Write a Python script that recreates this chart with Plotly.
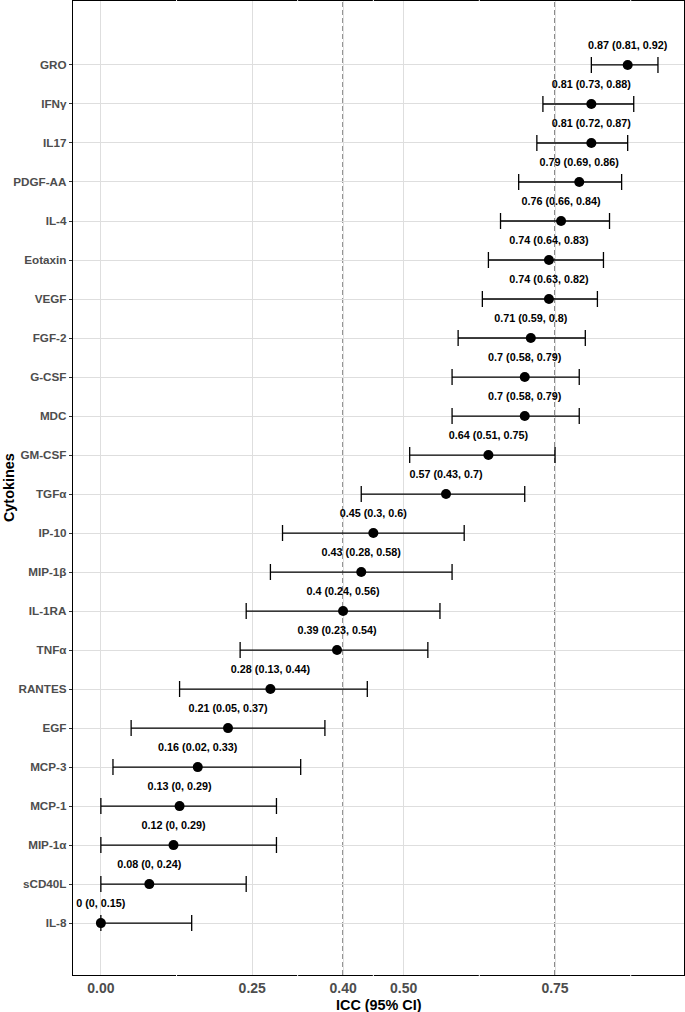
import plotly.graph_objects as go

cytokines = ["GRO", "IFNγ", "IL17", "PDGF-AA", "IL-4", "Eotaxin", "VEGF", "FGF-2",
             "G-CSF", "MDC", "GM-CSF", "TGFα", "IP-10", "MIP-1β", "IL-1RA", "TNFα",
             "RANTES", "EGF", "MCP-3", "MCP-1", "MIP-1α", "sCD40L", "IL-8"]
icc = [0.87, 0.81, 0.81, 0.79, 0.76, 0.74, 0.74, 0.71, 0.70, 0.70, 0.64, 0.57,
       0.45, 0.43, 0.40, 0.39, 0.28, 0.21, 0.16, 0.13, 0.12, 0.08, 0.00]
ci_low = [0.81, 0.73, 0.72, 0.69, 0.66, 0.64, 0.63, 0.59, 0.58, 0.58, 0.51, 0.43,
          0.30, 0.28, 0.24, 0.23, 0.13, 0.05, 0.02, 0.00, 0.00, 0.00, 0.00]
ci_high = [0.92, 0.88, 0.87, 0.86, 0.84, 0.83, 0.82, 0.80, 0.79, 0.79, 0.75, 0.70,
           0.60, 0.58, 0.56, 0.54, 0.44, 0.37, 0.33, 0.29, 0.29, 0.24, 0.15]
x_ticks = [0.0, 0.25, 0.40, 0.50, 0.75]
x_ticklabels = ["0.00", "0.25", "0.40", "0.50", "0.75"]
ref_lines = [0.40, 0.75]
minor_breaks = [0.125, 0.325, 0.45, 0.625, 0.875]

n = len(cytokines)
ypos = [n - i for i in range(n)]  # GRO at top
labels = [f"{v:g} ({lo:g}, {hi:g})" for v, lo, hi in zip(icc, ci_low, ci_high)]

fig = go.Figure()
fig.add_trace(go.Scatter(
    x=icc, y=ypos, mode="markers",
    marker=dict(color="black", size=10),
    error_x=dict(type="data", symmetric=False,
                 array=[h - v for v, h in zip(icc, ci_high)],
                 arrayminus=[v - l for v, l in zip(icc, ci_low)],
                 color="black", thickness=1.3, width=8),
    showlegend=False, hoverinfo="skip"))
fig.add_trace(go.Scatter(
    x=icc, y=[y + 0.48 for y in ypos], mode="text", text=labels,
    textposition="middle center",
    textfont=dict(family="Liberation Sans", size=10.8, color="black", weight="bold"),
    showlegend=False, hoverinfo="skip"))

shapes = []
for xv in ref_lines:
    shapes.append(dict(type="line", xref="x", yref="paper", x0=xv, x1=xv, y0=0, y1=1,
                       line=dict(color="#555555", width=1.4, dash="5px,3px"), layer="below"))
for xv in minor_breaks:
    for (a, b) in [(-0.003, 0.003), (0.997, 1.003)]:
        shapes.append(dict(type="line", xref="x", yref="paper", x0=xv, x1=xv, y0=a, y1=b,
                           line=dict(color="white", width=1), layer="above"))

fig.update_layout(
    width=685, height=1012,
    margin=dict(l=73, r=1, t=1, b=37),
    plot_bgcolor="white", paper_bgcolor="white",
    font=dict(family="Liberation Sans"),
    shapes=shapes,
    xaxis=dict(range=[-0.046, 0.963], tickvals=x_ticks, ticktext=x_ticklabels,
               automargin=False,
               showgrid=True, gridcolor="#dedede", gridwidth=1, zeroline=False,
               showline=True, linecolor="black", linewidth=1.3, mirror=True,
               ticks="", tickfont=dict(size=14, color="#4d4d4d", weight="bold")),
    yaxis=dict(range=[-0.33, 24.64], tickvals=ypos, ticktext=cytokines,
               automargin=False,
               showgrid=True, gridcolor="#dedede", gridwidth=1, zeroline=False,
               showline=True, linecolor="black", linewidth=1.3, mirror=True,
               ticks="outside", ticklen=3, tickcolor="#333333", tickwidth=1,
               tickfont=dict(size=11.7, color="#4d4d4d", weight="bold")),
    annotations=[
        dict(text="ICC (95% CI)", xref="paper", yref="paper", x=0.5, y=-0.0308,
             xanchor="center", yanchor="middle", showarrow=False,
             font=dict(size=14.4, color="black", weight="bold")),
        dict(text="Cytokines", xref="paper", yref="paper", x=-0.1047, y=0.5,
             xanchor="center", yanchor="middle", showarrow=False, textangle=-90,
             font=dict(size=14.4, color="black", weight="bold")),
    ],
)

fig.write_html("out.html", config={"displayModeBar": False},
               post_script="document.body.style.margin='0';document.body.style.overflow='hidden';")
